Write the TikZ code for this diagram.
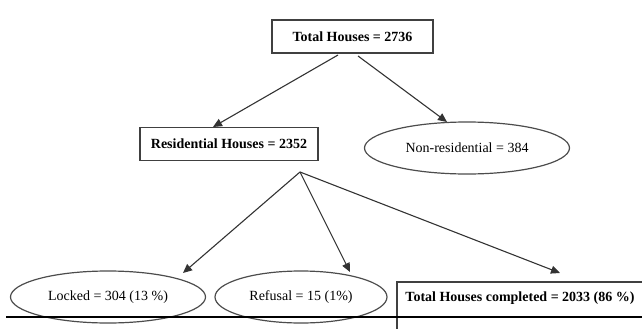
\documentclass[tikz,border=0pt]{standalone}
\usepackage{fontspec}
\setmainfont{Liberation Serif}
\usetikzlibrary{arrows.meta,shapes.geometric}
\begin{document}
\begin{tikzpicture}[x=1pt,y=-1pt,
 boxnode/.style={draw=black!75, line width=1.3pt, rectangle, font=\bfseries\fontsize{14}{16}\selectfont, inner sep=0},
 ellnode/.style={draw=black!70, line width=1.2pt, ellipse, inner sep=0, font=\fontsize{14}{16}\selectfont},
 conn/.style={draw=black!80, line width=1.1pt, -{Triangle[length=9pt,width=8pt]}}]
\useasboundingbox (0,0) rectangle (642,329);
\clip (0,0) rectangle (642,329);
\node[boxnode, minimum width=161, minimum height=33] (total) at (352.5,36.5) {Total Houses = 2736};
\node[boxnode, minimum width=178, minimum height=33] (res) at (229,144) {Residential Houses = 2352};
\node[ellnode, minimum width=205, minimum height=52] (nonres) at (467,148) {Non-residential = 384};
\node[ellnode, minimum width=195, minimum height=52] (locked) at (108,297) {Locked = 304 (13 \%)};
\node[ellnode, minimum width=172, minimum height=52] (refusal) at (301,297) {Refusal = 15 (1\%)};
\draw[draw=black!75, line width=1.3pt] (397,282) rectangle (660,345);
\node[font=\bfseries\fontsize{14}{16}\selectfont, inner sep=0] (done) at (520,298) {Total Houses completed = 2033 (86 \%)};
\coordinate (t1) at (338,55);
\coordinate (t2) at (358,56);
\coordinate (restip) at (213,127);
\coordinate (nonrestip) at (447,122);
\coordinate (hub) at (300,172);
\coordinate (lockedtip) at (183,273);
\coordinate (refusaltip) at (350,272);
\coordinate (donetip) at (560,273);
\draw[conn] (t1) -- (restip);
\draw[conn] (t2) -- (nonrestip);
\draw[conn] (hub) -- (lockedtip);
\draw[conn] (hub) -- (refusaltip);
\draw[conn] (hub) -- (donetip);
\coordinate (l1) at (6,317);
\coordinate (l2) at (642,317);
\draw[black, line width=2pt] (l1) -- (l2);
\end{tikzpicture}
\end{document}
